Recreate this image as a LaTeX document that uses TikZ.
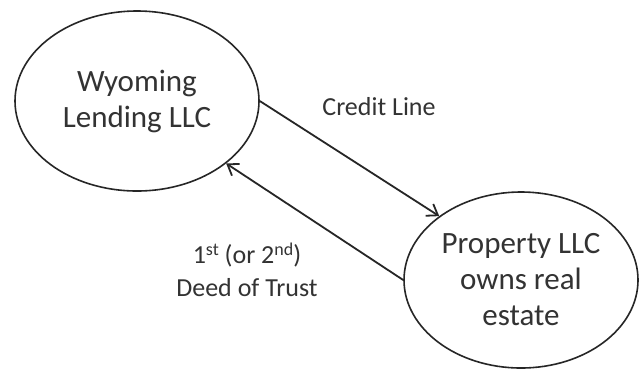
\documentclass[tikz,border=0pt]{standalone}
\usepackage{fontspec}
\setmainfont{Carlito}
\usetikzlibrary{shapes.geometric,arrows.meta}
\definecolor{inkline}{HTML}{262626}
\definecolor{inktext}{HTML}{333333}
\begin{document}
\begin{tikzpicture}[x=0.5pt,y=-0.5pt,
  entity/.style={ellipse,draw=inkline,line width=0.8pt,inner sep=0pt,
    align=center,text=inktext,font=\fontsize{15.5}{18}\selectfont},
  flow/.style={draw=inkline,line width=0.9pt,
    -{Straight Barb[length=5pt,width=7pt,line width=0.9pt]}},
  tag/.style={align=center,text=inktext,font=\fontsize{13}{16.5}\selectfont}]
  \useasboundingbox[fill=white] (0,0) rectangle (640,372);

  % the two parties
  \node[entity,minimum width=122pt,minimum height=90pt] (wyo) at (137,101) {Wyoming\\Lending LLC};
  \node[entity,minimum width=117pt,minimum height=88pt] (prop) at (521,280) {Property LLC\\owns real\\estate};

  % credit line out, deed of trust back
  \draw[flow] (wyo.0) -- (prop.142.5);
  \draw[flow] (prop.180) -- (wyo.-35.9);

  % labels
  \node[tag] (credit) at (379,107) {Credit Line};
  \node[tag] (deed) at (247,270) {1{\fontsize{9}{9}\selectfont\raisebox{0.45em}{st}} (or 2{\fontsize{9}{9}\selectfont\raisebox{0.45em}{nd}})\\Deed of Trust};
\end{tikzpicture}
\end{document}
